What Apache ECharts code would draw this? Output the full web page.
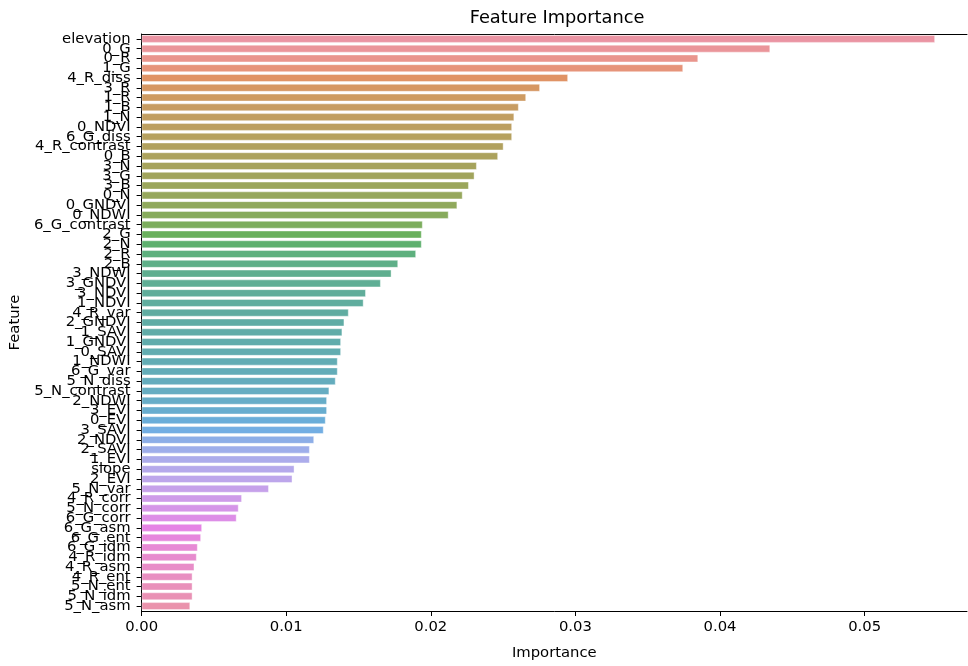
<!DOCTYPE html>
<html>
<head>
<meta charset="utf-8">
<script src="https://cdn.jsdelivr.net/npm/echarts@6/dist/echarts.min.js"></script>
<style>
  html, body { margin: 0; padding: 0; background: #fff; }
  #chart { width: 968px; height: 666px; }
</style>
</head>
<body>
<div id="chart"></div>
<script>
// Feature names, ordered from most to least important
const features = [
  'elevation', '0_G', '0_R', '1_G', '4_R_diss', '3_R', '1_R', '1_B', '1_N', '0_NDVI',
  '6_G_diss', '4_R_contrast', '0_B', '3_N', '3_G', '3_B', '0_N', '0_GNDVI', '0_NDWI', '6_G_contrast',
  '2_G', '2_N', '2_R', '2_B', '3_NDWI', '3_GNDVI', '3_NDVI', '1_NDVI', '4_R_var', '2_GNDVI',
  '1_SAVI', '1_GNDVI', '0_SAVI', '1_NDWI', '6_G_var', '5_N_diss', '5_N_contrast', '2_NDWI', '3_EVI', '0_EVI',
  '3_SAVI', '2_NDVI', '2_SAVI', '1_EVI', 'slope', '2_EVI', '5_N_var', '4_R_corr', '5_N_corr', '6_G_corr',
  '6_G_asm', '6_G_ent', '6_G_idm', '4_R_idm', '4_R_asm', '4_R_ent', '5_N_ent', '5_N_idm', '5_N_asm'
];

// Importance score of each feature
const importance = [
  0.05487, 0.04347, 0.03849, 0.03745, 0.02949, 0.02755, 0.02659, 0.02608, 0.02577, 0.02562,
  0.02562, 0.02503, 0.02465, 0.02318, 0.02302, 0.02263, 0.02220, 0.02183, 0.02123, 0.01944,
  0.01937, 0.01937, 0.01898, 0.01774, 0.01728, 0.01654, 0.01551, 0.01535, 0.01432, 0.01402,
  0.01388, 0.01379, 0.01379, 0.01356, 0.01356, 0.01342, 0.01298, 0.01282, 0.01282, 0.01273,
  0.01259, 0.01193, 0.01163, 0.01163, 0.01057, 0.01043, 0.00880, 0.00694, 0.00671, 0.00657,
  0.00418, 0.00411, 0.00388, 0.00381, 0.00365, 0.00352, 0.00352, 0.00352, 0.00336
];

// Importance axis ticks
const xTicks = [0, 0.01, 0.02, 0.03, 0.04, 0.05];
const xMax = 0.05708;

// ---- HUSL palette (evenly spaced hues), then desaturated to 75% ----
const M = [[3.2406, -1.5372, -0.4986], [-0.9689, 1.8758, 0.0415], [0.0557, -0.2040, 1.0570]];
const REF_Y = 1.0, REF_U = 0.19784, REF_V = 0.46834, KAPPA = 903.2963, EPS = 0.0088564;

function maxChroma(L, H) {
  const hrad = H / 360 * Math.PI * 2;
  const sinH = Math.sin(hrad), cosH = Math.cos(hrad);
  const sub1 = Math.pow(L + 16, 3) / 1560896;
  const sub2 = sub1 > EPS ? sub1 : L / KAPPA;
  let result = Infinity;
  for (const [m1, m2, m3] of M) {
    const top = (0.99915 * m1 + 1.05122 * m2 + 1.14460 * m3) * sub2;
    const rb = 0.86330 * m3 - 0.17266 * m2;
    const lb = 0.12949 * m3 - 0.38848 * m1;
    const bottom = (rb * sinH + lb * cosH) * sub2;
    for (const t of [0, 1]) {
      const C = L * (top - 1.05122 * t) / (bottom + 0.17266 * sinH * t);
      if (C > 0 && C < result) result = C;
    }
  }
  return result;
}
function fInv(t) { const t3 = t * t * t; return t3 > EPS ? t3 : (116 * t - 16) / KAPPA; }
function fromLinear(c) { return c <= 0.0031308 ? 12.92 * c : 1.055 * Math.pow(c, 1 / 2.4) - 0.055; }
function huslToRgb(h, s, l) {
  const C = maxChroma(l, h) / 100 * s;
  const hrad = h / 360 * Math.PI * 2;
  const U = Math.cos(hrad) * C, V = Math.sin(hrad) * C;
  const Y = fInv((l + 16) / 116) * REF_Y;
  const vu = U / (13 * l) + REF_U, vv = V / (13 * l) + REF_V;
  const X = -(9 * Y * vu) / ((vu - 4) * vv - vu * vv);
  const Z = (9 * Y - 15 * vv * Y - vv * X) / (3 * vv);
  return M.map(r => Math.min(1, Math.max(0, fromLinear(r[0] * X + r[1] * Y + r[2] * Z))));
}
function rgbToHls(r, g, b) {
  const mx = Math.max(r, g, b), mn = Math.min(r, g, b);
  const l = (mx + mn) / 2;
  if (mx === mn) return [0, l, 0];
  const d = mx - mn;
  const s = l <= 0.5 ? d / (mx + mn) : d / (2 - mx - mn);
  const rc = (mx - r) / d, gc = (mx - g) / d, bc = (mx - b) / d;
  let h = r === mx ? bc - gc : g === mx ? 2 + rc - bc : 4 + gc - rc;
  h = ((h / 6) % 1 + 1) % 1;
  return [h, l, s];
}
function hlsToRgb(h, l, s) {
  if (s === 0) return [l, l, l];
  const m2 = l <= 0.5 ? l * (1 + s) : l + s - l * s;
  const m1 = 2 * l - m2;
  const v = (hue) => {
    hue = ((hue % 1) + 1) % 1;
    if (hue < 1 / 6) return m1 + (m2 - m1) * hue * 6;
    if (hue < 0.5) return m2;
    if (hue < 2 / 3) return m1 + (m2 - m1) * (2 / 3 - hue) * 6;
    return m1;
  };
  return [v(h + 1 / 3), v(h), v(h - 1 / 3)];
}
function palette(n) {
  const out = [];
  for (let i = 0; i < n; i++) {
    const h = ((i / n + 0.01) % 1) * 359;
    const [r, g, b] = huslToRgb(h, 0.9 * 99, 0.65 * 99);
    const [hh, ll, ss] = rgbToHls(r, g, b);
    const rgb = hlsToRgb(hh, ll, ss * 0.75).map(c => Math.round(c * 255));
    out.push(`rgb(${rgb[0]},${rgb[1]},${rgb[2]})`);
  }
  return out;
}
const colors = palette(features.length);

const FONT = 'DejaVu Sans';
const TICK_SIZE = 14.8;
const chart = echarts.init(document.getElementById('chart'), null, { renderer: 'canvas' });

chart.setOption({
  backgroundColor: '#ffffff',
  animation: false,
  graphic: [{
    type: 'text', x: 557, y: 18,
    style: {
      text: 'Feature Importance', fontFamily: FONT, fontSize: 17.8, fill: '#000',
      textAlign: 'center', textVerticalAlign: 'middle'
    }
  }],
  grid: { left: 139, top: 34, width: 828, height: 581.3, containLabel: false },
  xAxis: [{
    type: 'value', min: 0, max: xMax, interval: 0.01,
    name: 'Importance', nameLocation: 'middle', nameGap: 35,
    nameTextStyle: { fontFamily: FONT, fontSize: TICK_SIZE, color: '#000' },
    axisLine: { show: true, lineStyle: { color: '#000', width: 1 } },
    axisTick: { show: true, length: 5, customValues: xTicks, lineStyle: { color: '#000' } },
    axisLabel: {
      fontFamily: FONT, fontSize: TICK_SIZE, color: '#000', margin: 9,
      customValues: xTicks,
      formatter: v => v.toFixed(2)
    },
    splitLine: { show: false }
  }, {
    type: 'value', position: 'top', min: 0, max: xMax,
    axisLine: { show: true, lineStyle: { color: '#000', width: 1 } },
    axisTick: { show: false }, axisLabel: { show: false }, splitLine: { show: false }
  }],
  yAxis: {
    type: 'category', data: features, inverse: true,
    name: 'Feature', nameLocation: 'middle', nameGap: 115, nameRotate: 90,
    nameTextStyle: { fontFamily: FONT, fontSize: TICK_SIZE, color: '#000' },
    axisLine: { show: true, lineStyle: { color: '#000', width: 1 } },
    axisTick: { show: true, length: 5, alignWithLabel: true, interval: 0, lineStyle: { color: '#000' } },
    axisLabel: { interval: 0, fontFamily: FONT, fontSize: TICK_SIZE, color: '#000', margin: 11 }
  },
  series: [{
    type: 'bar',
    data: importance.map((v, i) => ({ value: v, itemStyle: { color: colors[i] } })),
    barCategoryGap: '20%',
    itemStyle: { opacity: 0.85, borderColor: 'rgba(255,255,255,0.6)', borderWidth: 0.8 }
  }]
});
</script>
</body>
</html>
